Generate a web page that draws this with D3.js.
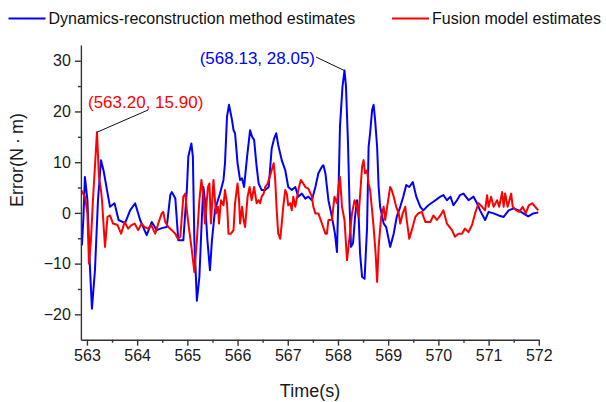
<!DOCTYPE html>
<html>
<head>
<meta charset="utf-8">
<script src="https://cdn.jsdelivr.net/npm/d3@7"></script>
<style>
  body { margin: 0; background: #fff; }
  text { font-family: "Liberation Sans", Arial, sans-serif; }
</style>
</head>
<body>
<script>
// Series
var blueTime = [562.90,562.93,562.96,563.01,563.06,563.10,563.16,563.22,563.28,563.33,563.40,563.46,563.55,563.63,563.76,563.86,563.96,564.06,564.19,564.29,564.39,564.49,564.59,564.66,564.69,564.76,564.82,564.92,564.99,565.02,565.08,565.11,565.14,565.19,565.24,565.29,565.32,565.35,565.40,565.45,565.49,565.55,565.59,565.65,565.72,565.75,565.79,565.83,565.89,565.92,565.95,566.00,566.05,566.09,566.13,566.19,566.25,566.29,566.33,566.38,566.42,566.48,566.55,566.62,566.68,566.73,566.77,566.81,566.88,566.95,567.01,567.08,567.15,567.21,567.28,567.35,567.41,567.48,567.55,567.61,567.68,567.71,567.75,567.81,567.88,567.94,567.98,568.01,568.04,568.09,568.13,568.16,568.20,568.23,568.26,568.30,568.34,568.38,568.41,568.44,568.48,568.53,568.58,568.61,568.64,568.68,568.71,568.74,568.78,568.81,568.84,568.91,568.96,569.04,569.11,569.17,569.24,569.30,569.36,569.42,569.49,569.56,569.64,569.70,569.80,569.90,570.04,570.10,570.17,570.24,570.30,570.37,570.43,570.50,570.60,570.70,570.77,570.83,570.93,571.00,571.10,571.20,571.30,571.40,571.50,571.60,571.69,571.79,571.89,571.99];
var blueVal = [-6.4,-1.0,7.1,2.5,-10.7,-18.9,-11.3,2.5,10.4,8.4,4.5,1.2,1.9,-1.4,-2.0,0.5,1.9,-1.4,-4.4,-1.8,-3.4,-3.0,-2.8,3.5,4.1,2.9,-5.4,-5.4,4.5,11.1,13.7,11.1,-5.4,-17.3,-12.6,-0.8,5.1,2.5,-5.4,-11.3,-5.4,0.5,1.9,3.8,6.5,9.8,19.0,21.3,18.3,16.3,15.7,9.8,6.5,6.8,5.1,11.1,16.3,15.0,14.4,9.1,5.8,4.5,4.5,5.1,12.7,14.7,15.7,13.4,10.4,8.4,5.1,4.5,5.1,3.2,3.8,2.8,3.2,2.5,5.1,7.8,9.1,9.4,7.8,2.5,-0.8,-4.1,-7.7,3.8,17.0,24.9,28.05,24.9,13.7,1.9,-6.7,-6.0,-0.8,2.5,-0.1,-8.0,-12.6,-13.0,-2.8,13.0,15.7,20.3,21.3,18.3,13.0,5.1,1.2,-2.1,-2.8,-6.7,-4.1,-0.8,1.2,3.2,5.5,5.1,6.1,3.2,1.2,0.5,1.5,2.2,3.2,3.5,2.5,3.2,1.5,2.5,3.5,3.8,2.5,3.2,1.9,0.5,-1.4,0.2,-0.1,-0.5,-0.8,0.5,0.9,0.5,-0.1,-0.7,-0.1,0.1];

var redTime = [562.89,562.96,563.01,563.04,563.08,563.12,563.20,563.24,563.28,563.30,563.36,563.41,563.46,563.52,563.61,563.68,563.72,563.75,563.82,563.89,563.95,564.02,564.09,564.15,564.22,564.28,564.36,564.42,564.49,564.52,564.56,564.62,564.69,564.76,564.81,564.86,564.92,564.96,564.99,565.02,565.09,565.14,565.19,565.24,565.28,565.32,565.35,565.41,565.44,565.47,565.52,565.57,565.61,565.63,565.67,565.72,565.75,565.79,565.82,565.87,565.92,565.95,566.00,566.03,566.05,566.09,566.12,566.15,566.20,566.24,566.28,566.33,566.38,566.42,566.45,566.48,566.52,566.55,566.60,566.64,566.68,566.72,566.75,566.78,566.81,566.85,566.88,566.91,566.95,566.98,567.01,567.05,567.08,567.11,567.15,567.21,567.26,567.31,567.35,567.41,567.48,567.51,567.55,567.61,567.68,567.75,567.78,567.81,567.88,567.93,567.98,568.01,568.04,568.08,568.13,568.18,568.21,568.28,568.33,568.38,568.41,568.48,568.51,568.54,568.58,568.61,568.64,568.68,568.71,568.75,568.78,568.81,568.86,568.91,568.94,569.00,569.04,569.07,569.11,569.16,569.21,569.24,569.29,569.34,569.37,569.42,569.47,569.54,569.60,569.67,569.74,569.84,569.90,569.97,570.04,570.10,570.17,570.27,570.33,570.40,570.47,570.53,570.60,570.67,570.73,570.80,570.87,570.93,570.97,571.00,571.05,571.10,571.17,571.21,571.27,571.30,571.33,571.38,571.45,571.48,571.55,571.61,571.68,571.74,571.80,571.87,571.93,571.99];
var redVal = [4.4,3.2,-0.1,-10.0,-5.4,2.5,15.9,7.1,4.5,2.5,-6.7,-0.8,-0.5,-2.1,-2.4,-4.1,-2.8,-1.8,-3.1,-2.4,-2.1,-3.4,-2.1,-2.8,-3.1,-2.4,-4.1,-2.1,-0.1,0.2,-1.8,-2.8,-3.4,-4.1,-5.1,-4.7,3.2,3.8,0.5,-2.1,-7.4,-11.7,-5.4,2.5,6.5,3.2,-2.1,5.1,5.8,-2.1,6.5,-0.1,1.2,-2.1,2.5,1.5,4.5,1.9,-4.1,-4.1,-3.4,1.9,5.8,2.5,-2.1,1.2,-1.4,-2.8,3.2,5.1,2.5,5.1,1.9,2.5,1.9,3.2,3.8,5.1,5.8,7.1,8.4,9.8,6.5,0.5,-4.1,-5.1,-2.1,1.2,4.5,3.8,1.5,1.9,0.5,3.2,1.2,4.5,6.5,5.8,5.1,4.8,3.2,1.2,-0.1,-0.1,-2.1,-4.1,-4.1,-1.4,-1.4,3.2,1.9,5.1,7.1,1.2,-1.4,-9.3,-6.7,-0.1,2.5,1.2,-0.8,9.1,10.4,7.8,8.4,5.8,4.5,0.5,-2.8,-8.0,-13.6,-6.7,-0.8,1.2,-1.4,2.5,5.1,4.5,3.2,1.2,-0.1,-2.1,-0.1,1.2,-1.4,-5.1,-3.4,-0.8,-0.1,0.2,-1.8,-1.8,-0.5,-1.4,-0.5,0.5,-2.1,-3.4,-4.7,-4.1,-4.1,-3.1,-3.8,-2.4,-0.1,1.9,1.2,0.5,3.5,1.2,3.2,1.2,2.5,1.2,4.1,1.2,3.8,1.2,3.8,1.2,0.5,0.2,1.2,-0.1,1.5,1.9,1.2,0.5];

var xTicks = [563, 564, 565, 566, 567, 568, 569, 570, 571, 572];
var xMinor = [563.5, 564.5, 565.5, 566.5, 567.5, 568.5, 569.5, 570.5, 571.5];
var yTicks = [-20, -10, 0, 10, 20, 30];
var yMinor = [-15, -5, 5, 15, 25];

var seriesNames = ["Dynamics-reconstruction method estimates", "Fusion model estimates"];
var seriesColors = ["#0000ff", "#ff0000"];

var peakTime = [568.13, 563.20];
var peakVal = [28.05, 15.90];

var width = 606, height = 402;

var svg = d3.select("body").append("svg")
    .attr("width", width)
    .attr("height", height);

var x = d3.scaleLinear().domain([562.88, 572]).range([80.9, 538.8]);
var y = d3.scaleLinear().domain([-25, 33.1]).range([339.7, 45]);

// Lines
var line = d3.line()
    .x(function (d) { return x(d[0]); })
    .y(function (d) { return y(d[1]); });

var blue = d3.zip(blueTime, blueVal);
var red = d3.zip(redTime, redVal);

svg.append("path")
    .datum(blue)
    .attr("d", line)
    .attr("fill", "none")
    .attr("stroke", seriesColors[0])
    .attr("stroke-width", 2)
    .attr("stroke-linejoin", "round");

svg.append("path")
    .datum(red)
    .attr("d", line)
    .attr("fill", "none")
    .attr("stroke", seriesColors[1])
    .attr("stroke-width", 2)
    .attr("stroke-linejoin", "round");

// Axes
var axisColor = "#333";

svg.append("g")
    .attr("transform", "translate(0," + y(-25) + ")")
    .call(d3.axisBottom(x).tickValues(xTicks).tickSize(6).tickPadding(4).tickSizeOuter(0));
svg.append("g")
    .attr("transform", "translate(0," + y(-25) + ")")
    .call(d3.axisBottom(x).tickValues(xMinor).tickSize(3).tickFormat("").tickSizeOuter(0))
    .select(".domain").remove();

svg.append("g")
    .attr("transform", "translate(" + x(562.88) + ",0)")
    .call(d3.axisLeft(y).tickValues(yTicks).tickSize(6).tickPadding(4).tickSizeOuter(0));
svg.append("g")
    .attr("transform", "translate(" + x(562.88) + ",0)")
    .call(d3.axisLeft(y).tickValues(yMinor).tickSize(3).tickFormat("").tickSizeOuter(0))
    .select(".domain").remove();

svg.selectAll(".domain, .tick line")
    .attr("stroke", axisColor)
    .attr("stroke-width", 1.4);
svg.selectAll(".tick text")
    .attr("font-size", "16px")
    .attr("fill", "#1a1a1a")
    .style("font-family", "'Liberation Sans', Arial, sans-serif");

// Axis titles
svg.append("text")
    .attr("x", 310)
    .attr("y", 397)
    .attr("text-anchor", "middle")
    .attr("font-size", "18px")
    .attr("fill", "#1a1a1a")
    .text("Time(s)");

// the dot in N·m is set a bit wide in the original
var yTitle = svg.append("text")
    .attr("transform", "translate(23,160) rotate(-90)")
    .attr("text-anchor", "middle")
    .attr("font-size", "18px")
    .attr("fill", "#1a1a1a");
yTitle.append("tspan").text("Error(N");
yTitle.append("tspan").attr("dx", 4).text("·");
yTitle.append("tspan").attr("dx", 4).text("m)");

// Legend
var legendX = [8.5, 392];
var lg = svg.append("g");
seriesNames.forEach(function (name, i) {
    lg.append("line")
        .attr("x1", legendX[i]).attr("x2", legendX[i] + 37)
        .attr("y1", 18.5).attr("y2", 18.5)
        .attr("stroke", seriesColors[i])
        .attr("stroke-width", 2);
    lg.append("text")
        .attr("x", legendX[i] + 40)
        .attr("y", 24)
        .attr("font-size", "16px")
        .attr("fill", "#111")
        .text(name);
});

// Peak annotations
var labelPos = [{ x: 315, y: 64, anchor: "end", lx: 316, ly: 57 },
                { x: 88, y: 108, anchor: "start", lx: 148, ly: 110 }];
peakTime.forEach(function (t, i) {
    var p = labelPos[i];
    svg.append("line")
        .attr("x1", p.lx).attr("y1", p.ly)
        .attr("x2", x(t)).attr("y2", y(peakVal[i]))
        .attr("stroke", "#111")
        .attr("stroke-width", 1);
    svg.append("text")
        .attr("x", p.x)
        .attr("y", p.y)
        .attr("text-anchor", p.anchor)
        .attr("font-size", "17px")
        .attr("fill", seriesColors[i])
        .text("(" + t.toFixed(2) + ", " + peakVal[i].toFixed(2) + ")");
});
</script>
</body>
</html>
